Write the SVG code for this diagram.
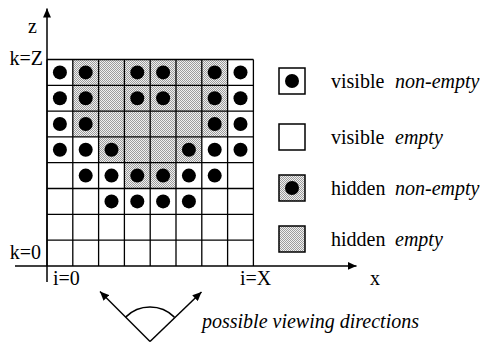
<svg xmlns="http://www.w3.org/2000/svg" width="482" height="346" viewBox="0 0 482 346">
<defs>
<pattern id="stip" patternUnits="userSpaceOnUse" width="2" height="2">
<rect width="2" height="2" fill="#f0f0f0"/>
<rect width="1" height="1" fill="#9c9c9c"/>
<rect x="1" y="1" width="1" height="1" fill="#9c9c9c"/>
</pattern>
<marker id="ah" markerUnits="userSpaceOnUse" markerWidth="10" markerHeight="8" refX="9" refY="4" orient="auto">
<path d="M0,0 L9,4 L0,8 Z" fill="#000"/>
</marker>
</defs>
<style>
.t{font-family:"Liberation Serif","Times New Roman",serif;font-size:20px;fill:#000}
.i{font-style:italic}
.g{stroke:#000;stroke-width:1.3;fill:none}
.ax{stroke:#000;stroke-width:1.5;fill:none}
.hid{fill:url(#stip)}
.dot{fill:#000}
.box{stroke:#000;stroke-width:1.5}
</style>
<g id="grid">
<rect class="hid" x="72.8" y="59.5" width="154.8" height="77.4"/>
<rect class="hid" x="98.6" y="136.9" width="103.2" height="25.8"/>
<rect class="hid" x="124.4" y="162.7" width="51.6" height="25.8"/>
<path class="g" d="M47,59.5V265.9M72.8,59.5V265.9M98.6,59.5V265.9M124.4,59.5V265.9M150.2,59.5V265.9M176,59.5V265.9M201.8,59.5V265.9M227.6,59.5V265.9M253.4,59.5V265.9M47,59.5H253.4M47,85.3H253.4M47,111.1H253.4M47,136.9H253.4M47,162.7H253.4M47,188.5H253.4M47,214.3H253.4M47,240.1H253.4"/>
<g class="dot">
<circle cx="59.9" cy="72.4" r="7"/><circle cx="85.7" cy="72.4" r="7"/><circle cx="137.3" cy="72.4" r="7"/><circle cx="163.1" cy="72.4" r="7"/><circle cx="214.7" cy="72.4" r="7"/><circle cx="240.5" cy="72.4" r="7"/>
<circle cx="59.9" cy="98.2" r="7"/><circle cx="85.7" cy="98.2" r="7"/><circle cx="137.3" cy="98.2" r="7"/><circle cx="163.1" cy="98.2" r="7"/><circle cx="214.7" cy="98.2" r="7"/><circle cx="240.5" cy="98.2" r="7"/>
<circle cx="59.9" cy="124" r="7"/><circle cx="85.7" cy="124" r="7"/><circle cx="214.7" cy="124" r="7"/><circle cx="240.5" cy="124" r="7"/>
<circle cx="59.9" cy="149.8" r="7"/><circle cx="85.7" cy="149.8" r="7"/><circle cx="111.5" cy="149.8" r="7"/><circle cx="188.9" cy="149.8" r="7"/><circle cx="214.7" cy="149.8" r="7"/><circle cx="240.5" cy="149.8" r="7"/>
<circle cx="85.7" cy="175.6" r="7"/><circle cx="111.5" cy="175.6" r="7"/><circle cx="137.3" cy="175.6" r="7"/><circle cx="163.1" cy="175.6" r="7"/><circle cx="188.9" cy="175.6" r="7"/><circle cx="214.7" cy="175.6" r="7"/>
<circle cx="111.5" cy="201.4" r="7"/><circle cx="137.3" cy="201.4" r="7"/><circle cx="163.1" cy="201.4" r="7"/><circle cx="188.9" cy="201.4" r="7"/>
</g>
</g>
<g id="axes">
<line class="ax" x1="15" y1="265.9" x2="356.5" y2="265.9" marker-end="url(#ah)"/>
<line class="ax" x1="47" y1="282" x2="47" y2="8.5" marker-end="url(#ah)"/>
<text class="t" x="28" y="33">z</text>
<text class="t" x="43" y="65" text-anchor="end">k=Z</text>
<text class="t" x="41" y="259" text-anchor="end">k=0</text>
<text class="t" x="53" y="285">i=0</text>
<text class="t" x="240" y="285">i=X</text>
<text class="t" x="370" y="285">x</text>
</g>
<g id="legend-visible-nonempty">
<rect class="box" x="279" y="68" width="26" height="26" fill="#fff"/>
<circle class="dot" cx="292" cy="81" r="7"/>
<text class="t" x="331" y="88">visible</text>
<text class="t i" x="395" y="88">non-empty</text>
</g>
<g id="legend-visible-empty">
<rect class="box" x="279" y="124" width="26" height="26" fill="#fff"/>
<text class="t" x="331" y="144">visible</text>
<text class="t i" x="395" y="144">empty</text>
</g>
<g id="legend-hidden-nonempty">
<rect class="box hid" x="279" y="175" width="26" height="26"/>
<circle class="dot" cx="292" cy="188" r="7"/>
<text class="t" x="331" y="195">hidden</text>
<text class="t i" x="395" y="195">non-empty</text>
</g>
<g id="legend-hidden-empty">
<rect class="box hid" x="279" y="226" width="26" height="26"/>
<text class="t" x="331" y="246">hidden</text>
<text class="t i" x="395" y="246">empty</text>
</g>
<g id="viewing">
<line class="ax" x1="150" y1="341.5" x2="100" y2="291.5" marker-end="url(#ah)"/>
<line class="ax" x1="150" y1="341.5" x2="201.5" y2="292" marker-end="url(#ah)"/>
<path class="ax" d="M125.6,317.1 A34.5,34.5 0 0 1 174.4,317.1" stroke-width="1.2"/>
<text class="t i" x="202" y="328">possible viewing directions</text>
</g>
</svg>
